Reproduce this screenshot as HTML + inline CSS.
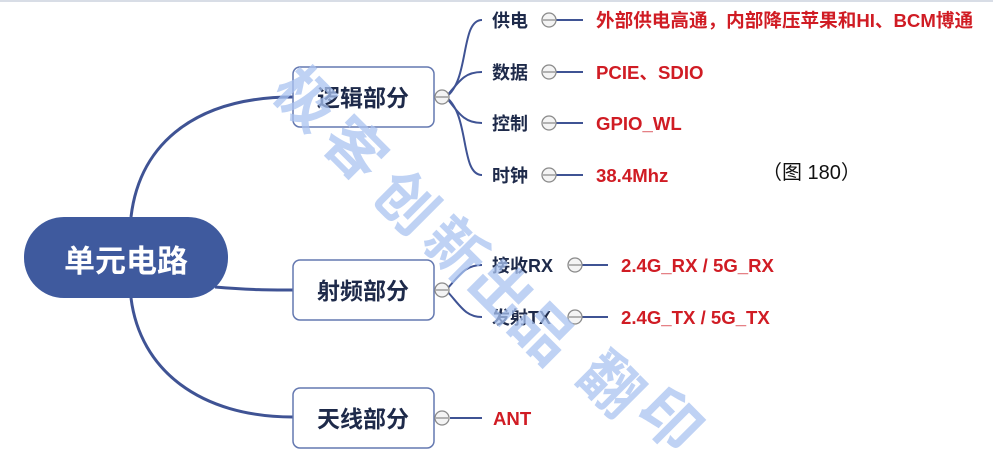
<!DOCTYPE html>
<html><head><meta charset="utf-8"><style>
html,body{margin:0;padding:0;background:#fff;width:993px;height:454px;overflow:hidden}
#w{width:993px;height:454px;overflow:hidden;position:relative}
svg{display:block;overflow:hidden}
text{font-family:"Liberation Sans","Noto Sans CJK SC",sans-serif}
</style></head><body><div id="w">
<svg width="993" height="454" viewBox="0 0 993 454" xmlns="http://www.w3.org/2000/svg">
<defs><clipPath id="c"><rect x="0" y="0" width="993" height="454"/></clipPath></defs>
<rect x="0" y="0" width="993" height="2" fill="#d8dde6"/>
<g fill="none" stroke="#3f5394" stroke-width="3">
<path d="M131,217 C140,140 200,97 293,97"/>
<path d="M215,287 C250,290 270,290 293,290"/>
<path d="M131,298 C140,370 200,417 293,417"/>
</g>
<g fill="none" stroke="#3f5394" stroke-width="2">
<path d="M446,97 C470,80 460,20 482,20"/>
<path d="M446,97 C460,80 465,72 482,72"/>
<path d="M446,97 C460,115 465,123 482,123"/>
<path d="M446,97 C470,115 460,175 482,175"/>
<path d="M446,290 C460,275 465,265 482,265"/>
<path d="M446,290 C460,305 465,317 482,317"/>
<path d="M450,418 L482,418"/>
<path d="M556,20 L583,20"/><path d="M556,72 L583,72"/><path d="M556,123 L583,123"/><path d="M556,175 L583,175"/>
<path d="M582,265 L608,265"/><path d="M582,317 L608,317"/>
</g>
<rect x="24" y="217" width="204" height="81" rx="40" fill="#3f5a9e"/>
<text x="126" y="272" font-size="31" font-weight="bold" fill="#fff" text-anchor="middle">单元电路</text>
<g fill="#fff" stroke="#6478b0" stroke-width="1.5">
<rect x="293" y="67" width="141" height="60" rx="7"/>
<rect x="293" y="260" width="141" height="60" rx="7"/>
<rect x="293" y="388" width="141" height="60" rx="7"/>
</g>
<g font-size="23" font-weight="bold" fill="#1e2a4a" text-anchor="middle">
<text x="363" y="106">逻辑部分</text>
<text x="363" y="299">射频部分</text>
<text x="363" y="427">天线部分</text>
</g>
<g fill="#f4f4f4" stroke="#8a8a8a" stroke-width="1.3">
<circle cx="442" cy="97" r="7"/><circle cx="442" cy="290" r="7"/><circle cx="442" cy="418" r="7"/>
<circle cx="549" cy="20" r="7"/><circle cx="549" cy="72" r="7"/><circle cx="549" cy="123" r="7"/><circle cx="549" cy="175" r="7"/>
<circle cx="575" cy="265" r="7"/><circle cx="575" cy="317" r="7"/>
</g>
<g stroke="#8a8a8a" stroke-width="1.3">
<path d="M436,97h12M436,290h12M436,418h12M543,20h12M543,72h12M543,123h12M543,175h12M569,265h12M569,317h12"/>
</g>
<g font-size="18" font-weight="bold" fill="#1e2a4a">
<text x="492" y="27">供电</text><text x="492" y="79">数据</text><text x="492" y="130">控制</text><text x="492" y="182">时钟</text>
<text x="492" y="272">接收RX</text><text x="492" y="324">发射TX</text>
</g>
<g font-size="18.6" font-weight="bold" fill="#d01c24">
<text x="596" y="27">外部供电高通，内部降压苹果和HI、BCM博通</text>
<text x="596" y="79">PCIE、SDIO</text>
<text x="596" y="130">GPIO_WL</text>
<text x="596" y="182">38.4Mhz</text>
<text x="621" y="272">2.4G_RX / 5G_RX</text>
<text x="621" y="324">2.4G_TX / 5G_TX</text>
<text x="493" y="425">ANT</text>
</g>
<text x="762" y="179" font-size="20" fill="#111">（图 180）</text>
<g clip-path="url(#c)" font-size="60" font-weight="bold" fill="#a9c3f0" fill-opacity="0.75" text-anchor="middle">
<text transform="translate(305,100) rotate(45)" y="20">极</text>
<text transform="translate(354,150) rotate(45)" y="20">客</text>
<text transform="translate(405,203) rotate(45)" y="20">创</text>
<text transform="translate(455,250) rotate(45)" y="20">新</text>
<text transform="translate(500,292) rotate(45)" y="20">出</text>
<text transform="translate(542,333) rotate(45)" y="20">品</text>
<text transform="translate(610,385) rotate(45)" y="20">翻</text>
<text transform="translate(665,425) rotate(45)" y="14">印</text>
</g>
</svg>
</div></body></html>
